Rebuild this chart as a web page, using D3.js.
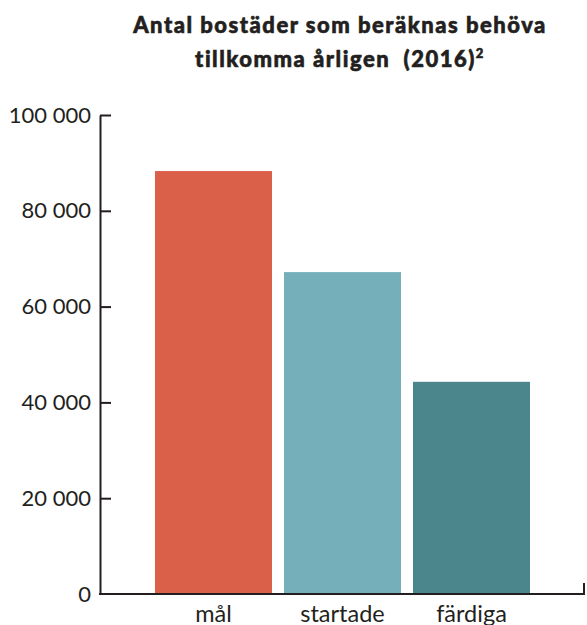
<!DOCTYPE html>
<html>
<head>
<meta charset="utf-8">
<script src="https://cdn.jsdelivr.net/npm/d3@7"></script>
<style>
  html, body { margin: 0; padding: 0; background: #fff; }
  svg { display: block; font-family: Lato, "Noto Sans", sans-serif; }
</style>
</head>
<body>
<svg id="chart" width="587" height="625"></svg>
<script>
// Antal bostäder per år (2016)
const categories = ["mål", "startade", "färdiga"];
const values = [88300, 67200, 44300];
const colors = ["#DB604A", "#74AFBA", "#4A868C"];
const yTicks = [0, 20000, 40000, 60000, 80000, 100000];
const titleLines = ["Antal bostäder som beräknas behöva", "tillkomma årligen\u00A0 (2016)"];

const svg = d3.select("#chart");
const ink = "#231f20";

const se = d3.formatLocale({ decimal: ",", thousands: " ", grouping: [3], currency: ["", " kr"] });
const fmt = se.format(",d");

const y = d3.scaleLinear().domain([0, 100000]).range([594, 115]);
const x = d3.scaleBand().domain(categories).range([149, 536])
  .paddingInner(0.093).paddingOuter(0.0465);

// Title (heavy weight, slightly tracked out)
const title = svg.append("text")
  .attr("x", 340).attr("text-anchor", "middle")
  .attr("font-size", 22).attr("font-weight", 900).attr("fill", ink)
  .attr("stroke", ink).attr("stroke-width", 0.6)
  .attr("letter-spacing", 1.5);
title.append("tspan").attr("x", 340).attr("y", 33).text(titleLines[0]);
const l2 = title.append("tspan").attr("x", 340).attr("y", 67).text(titleLines[1]);
l2.append("tspan").attr("font-size", 13).attr("dy", -9).text("2");

// Bars
svg.append("g").selectAll("rect")
  .data(values)
  .join("rect")
  .attr("x", (d, i) => x(categories[i]))
  .attr("width", x.bandwidth())
  .attr("y", d => y(d))
  .attr("height", d => y(0) - y(d))
  .attr("fill", (d, i) => colors[i]);

// Y axis with inward ticks
const yAxis = svg.append("g")
  .attr("transform", "translate(100,0)")
  .call(d3.axisLeft(y).tickValues(yTicks).tickFormat(fmt)
    .tickSizeInner(-11).tickSizeOuter(0).tickPadding(9));
yAxis.select(".domain").attr("stroke", ink).attr("stroke-width", 2);
yAxis.selectAll(".tick line").attr("stroke", ink).attr("stroke-width", 2)
  .filter(d => d === 0).remove();
yAxis.selectAll(".tick text").attr("font-size", 22).attr("fill", ink)
  .attr("font-family", "Lato, sans-serif");

// Baseline with end tick
const xLine = d3.scaleLinear().domain([0, 1]).range([99, 584]);
svg.append("path")
  .attr("d", `M${xLine(0)},${y(0)}H${xLine(1)}V${y(0) - 11}`)
  .attr("fill", "none").attr("stroke", ink).attr("stroke-width", 2);

// Category labels
const xAxis = svg.append("g")
  .attr("transform", `translate(0,${y(0)})`)
  .call(d3.axisBottom(x).tickSize(0).tickPadding(11));
xAxis.select(".domain").remove();
xAxis.selectAll(".tick text").attr("font-size", 23.5).attr("fill", ink)
  .attr("font-family", "Lato, sans-serif").attr("dy", "0.71em");
</script>
</body>
</html>
